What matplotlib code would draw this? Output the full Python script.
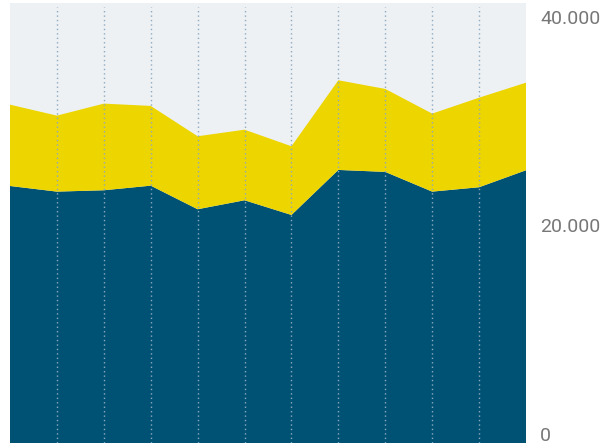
import matplotlib
matplotlib.use("Agg")
import matplotlib.pyplot as plt
from matplotlib.transforms import ScaledTranslation

# Twelve periods, two stacked series
periods = list(range(12))
base_series = [24650, 24110, 24240, 24680, 22420, 23280, 21870, 26190, 26000, 24110, 24530, 26160]
top_series = [7800, 7290, 8310, 7650, 7000, 6770, 6590, 8600, 7960, 7480, 8590, 8400]
y_ticks = [0, 20000, 40000]

BLUE = "#005275"
YELLOW = "#EDD500"
BG = "#EDF1F4"
GRID = "#8FA9BE"
LABEL = "#777777"

plt.rcParams["font.family"] = ["Roboto", "DejaVu Sans"]

DPI = 100
fig = plt.figure(figsize=(6.03, 4.44), dpi=DPI)
ax = fig.add_axes([10 / 603, 1 / 444, 516 / 603, 440 / 444])
ax.set_facecolor(BG)

ax.stackplot(periods, base_series, top_series, colors=[BLUE, YELLOW], linewidth=0, zorder=1)

ax.set_xlim(periods[0], periods[-1])
ax.set_ylim(0, 42200)

# dotted guides at inner periods, drawn above the areas
for p in periods[1:-1]:
    ax.axvline(p, ymin=0, ymax=(42200 - 400) / 42200, color=GRID, linestyle=(0, (1, 2.2)),
               linewidth=1.0, zorder=3)

for s in ax.spines.values():
    s.set_visible(False)
ax.set_xticks([])
ax.set_yticks([])

# value labels to the right of the plot, sitting just above their level
label_tf = ax.get_yaxis_transform() + ScaledTranslation(14 / DPI, 2 / DPI, fig.dpi_scale_trans)
for v in y_ticks:
    ax.text(1.0, v, f"{v:,}".replace(",", "."), transform=label_tf, ha="left", va="baseline",
            fontsize=14, color=LABEL, clip_on=False)

fig.savefig("out.png", dpi=DPI)
